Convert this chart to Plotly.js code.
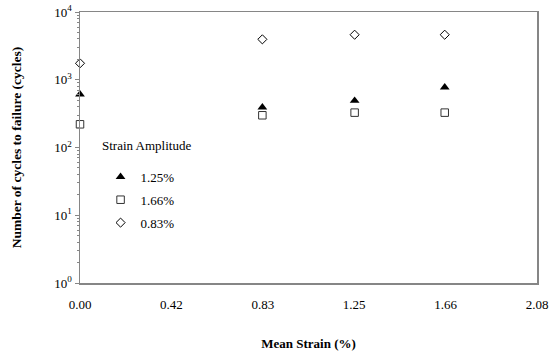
<!DOCTYPE html>
<html>
<head>
<meta charset="utf-8">
<script src="https://cdn.plot.ly/plotly-3.0.1.min.js"></script>
<style>html,body{margin:0;padding:0;background:#fff;}#chart{width:550px;height:356px;}</style>
</head>
<body>
<div id="chart"></div>
<script>
// Data
var meanStrain = [0, 0.83, 1.25, 1.66];
var cycles_125 = [610, 392, 490, 775];
var cycles_166 = [220, 299, 327, 327];
var cycles_083 = [1750, 3950, 4620, 4620];
var seriesNames = ['1.25%', '1.66%', '0.83%'];
var legendTitle = 'Strain Amplitude';
var xTickVals = [0, 0.416, 0.832, 1.248, 1.664, 2.08];
var xTickText = ['0.00', '0.42', '0.83', '1.25', '1.66', '2.08'];
var yTickVals = [1, 10, 100, 1000, 10000];
var yTickText = ['10<sup>0</sup>', '10<sup>1</sup>', '10<sup>2</sup>', '10<sup>3</sup>', '10<sup>4</sup>'];

var serif = 'Liberation Serif, Times New Roman, serif';
var axisGray = '#868686';

var traces = [
  {x: meanStrain, y: cycles_125, name: seriesNames[0], type: 'scatter', mode: 'markers', legendgroup: 'a', cliponaxis: false,
   marker: {symbol: 'triangle-up', size: 8.5, color: '#000'}},
  {x: meanStrain, y: cycles_166, name: seriesNames[1], type: 'scatter', mode: 'markers', legendgroup: 'b', cliponaxis: false,
   marker: {symbol: 'square-open', size: 7.5, color: '#333', line: {width: 1}}},
  {x: meanStrain, y: cycles_083, name: seriesNames[2], type: 'scatter', mode: 'markers', legendgroup: 'c', cliponaxis: false,
   marker: {symbol: 'diamond-open', size: 7, color: '#000', line: {width: 1}}}
];

var layout = {
  width: 550, height: 356,
  margin: {l: 80, r: 13, t: 12, b: 73},
  paper_bgcolor: '#fff', plot_bgcolor: '#fff',
  font: {family: serif, size: 13, color: '#000'},
  showlegend: true,
  legend: {
    x: 0.045, y: 0.447, xanchor: 'left', yanchor: 'top',
    bgcolor: 'rgba(0,0,0,0)', tracegroupgap: 3,
    font: {family: serif, size: 13, color: '#000'}
  },
  annotations: [{
    xref: 'paper', yref: 'paper', x: 0.044, y: 0.507, xanchor: 'left', yanchor: 'middle',
    text: legendTitle, showarrow: false, font: {family: serif, size: 13, color: '#000'}
  }],
  xaxis: {
    range: [0, 2.08], tickmode: 'array', tickvals: xTickVals, ticktext: xTickText,
    showgrid: false, zeroline: false, showline: true, mirror: true,
    linecolor: axisGray, linewidth: 1.5, ticks: 'outside', ticklen: 9, tickcolor: 'rgba(0,0,0,0)',
    tickfont: {family: serif, size: 13},
    title: {text: '<b>Mean Strain (%)</b>', font: {family: serif, size: 13}, standoff: 28}
  },
  yaxis: {
    type: 'log', range: [0, 4], tickmode: 'array', tickvals: yTickVals, ticktext: yTickText,
    showgrid: false, zeroline: false, showline: true, mirror: true,
    linecolor: axisGray, linewidth: 1.5,
    ticks: 'outside', ticklen: 4, tickcolor: axisGray, tickwidth: 1,
    minor: {ticks: 'outside', ticklen: 2, tickcolor: axisGray, dtick: 'D1', showgrid: false},
    tickfont: {family: serif, size: 13},
    title: {text: '<b>Number of cycles to failure (cycles)</b>', font: {family: serif, size: 13.5}, standoff: 29}
  },
  yaxis2: {
    type: 'log', range: [0, 4], dtick: 1, overlaying: 'y', side: 'left',
    showgrid: false, zeroline: false, showline: false, showticklabels: false,
    ticks: 'inside', ticklen: 4, tickcolor: axisGray, tickwidth: 1,
    minor: {ticks: 'inside', ticklen: 2, tickcolor: axisGray, dtick: 'D1', showgrid: false}
  }
};

Plotly.newPlot('chart', traces, layout, {displayModeBar: false, staticPlot: true});
</script>
</body>
</html>
